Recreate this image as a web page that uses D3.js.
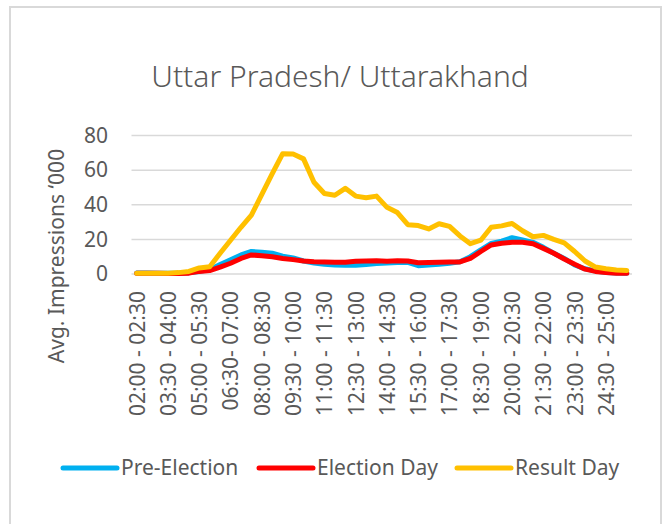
<!DOCTYPE html>
<html>
<head>
<meta charset="utf-8">
<script src="https://cdn.jsdelivr.net/npm/d3@7"></script>
<style>
  body { margin: 0; background: #fff; }
  text { font-family: "Noto Sans", sans-serif; fill: #595959; }
</style>
</head>
<body>
<div id="chart"></div>
<script>
var width = 665, height = 524;

var slots = [
  "02:00 - 02:30", "02:30 - 03:00", "03:00 - 03:30", "03:30 - 04:00",
  "04:00 - 04:30", "04:30 - 05:00", "05:00 - 05:30", "05:30 - 06:00",
  "06:00 - 06:30", "06:30- 07:00", "07:00 - 07:30", "07:30 - 08:00",
  "08:00 - 08:30", "08:30 - 09:00", "09:00 - 09:30", "09:30 - 10:00",
  "10:00 - 10:30", "10:30 - 11:00", "11:00 - 11:30", "11:30 - 12:00",
  "12:00 - 12:30", "12:30 - 13:00", "13:00 - 13:30", "13:30 - 14:00",
  "14:00 - 14:30", "14:30 - 15:00", "15:00 - 15:30", "15:30 - 16:00",
  "16:00 - 16:30", "16:30 - 17:00", "17:00 - 17:30", "17:30 - 18:00",
  "18:00 - 18:30", "18:30 - 19:00", "19:00 - 19:30", "19:30 - 20:00",
  "20:00 - 20:30", "20:30 - 21:00", "21:00 - 21:30", "21:30 - 22:00",
  "22:00 - 22:30", "22:30 - 23:00", "23:00 - 23:30", "23:30 - 24:00",
  "24:00 - 24:30", "24:30 - 25:00", "25:00 - 25:30", "25:30 - 26:00"
];

var preElection = [0.6, 0.6, 0.5, 0.5, 0.5, 0.7, 1.5, 2.5, 5.5, 8.2, 11, 13,
  12.6, 12, 10.3, 9.3, 7.5, 6.3, 5.6, 5.2, 5.1, 5.1, 5.5, 6,
  6.4, 6.6, 6.7, 4.8, 5.2, 5.6, 6.2, 7.1, 10, 14, 17.7, 19,
  21, 19.7, 18.3, 15.4, 12, 9, 5.2, 3, 1.7, 0.9, 0.6, 0.5];

var electionDay = [0.4, 0.4, 0.4, 0.3, 0.3, 0.5, 1.5, 2, 4, 6.2, 9, 11,
  10.6, 10, 9, 8.3, 7.5, 7.1, 7, 6.8, 6.8, 7.3, 7.5, 7.7,
  7.4, 7.6, 7.5, 6.5, 6.6, 6.8, 6.9, 7, 9, 13, 16.8, 17.8,
  18.3, 18.3, 17.5, 14.8, 12, 8.7, 5.6, 2.8, 1.5, 0.8, 0.5, 0.5];

var resultDay = [0.4, 0.4, 0.4, 0.5, 0.8, 1.5, 3.5, 4.2, 12, 19.5, 27, 34,
  46, 58, 69.5, 69.3, 66.5, 53, 46.5, 45.5, 49.5, 45, 44, 45,
  38.5, 35.5, 28.5, 28, 26, 29, 27.5, 22, 17.5, 19.5, 27, 27.8,
  29.2, 25, 21.5, 22.3, 20, 18, 13, 7.5, 4, 3, 2.3, 2];

var yTicks = [0, 20, 40, 60, 80];

var series = [
  { name: "Pre-Election", values: preElection, color: "#00B0F0" },
  { name: "Election Day", values: electionDay, color: "#FF0000" },
  { name: "Result Day", values: resultDay, color: "#FFC000" }
];

var svg = d3.select("#chart").append("svg")
  .attr("width", width)
  .attr("height", height);

// chart frame
svg.append("rect")
  .attr("x", 10).attr("y", 7)
  .attr("width", 651).attr("height", 540)
  .attr("fill", "none")
  .attr("stroke", "#d9d9d9")
  .attr("stroke-width", 2);

svg.append("text")
  .attr("x", 340).attr("y", 87)
  .attr("text-anchor", "middle")
  .style("font-size", "30px")
  .style("font-weight", 300)
  .text("Uttar Pradesh/ Uttarakhand");

var x = d3.scalePoint()
  .domain(slots)
  .range([131.5, 632])
  .padding(0.5);

var y = d3.scaleLinear()
  .domain([0, 80])
  .range([274, 135.5]);

// gridlines
svg.append("g")
  .selectAll("line")
  .data(yTicks)
  .enter()
  .append("line")
  .attr("x1", 131.5).attr("x2", 632)
  .attr("y1", function(d) { return y(d); })
  .attr("y2", function(d) { return y(d); })
  .attr("stroke", "#d9d9d9")
  .attr("stroke-width", 1.5);

var yAxis = svg.append("g")
  .attr("transform", "translate(118,0)")
  .call(d3.axisLeft(y).tickValues(yTicks).tickSize(0).tickPadding(10));
yAxis.select(".domain").remove();
yAxis.selectAll("text")
  .style("font-family", "'Noto Sans', sans-serif")
  .style("font-size", "21px")
  .attr("fill", "#595959");

svg.append("text")
  .attr("transform", "translate(64,256) rotate(-90)")
  .attr("text-anchor", "middle")
  .style("font-size", "21px")
  .text("Avg. Impressions \u2018000");

var shown = slots.filter(function(d, i) { return i % 3 === 0; });
var xAxis = svg.append("g")
  .attr("transform", "translate(0,281)")
  .call(d3.axisBottom(x).tickValues(shown).tickSize(0).tickPadding(0));
xAxis.select(".domain").remove();
xAxis.selectAll("text")
  .style("font-family", "'Noto Sans', sans-serif")
  .style("font-size", "21px")
  .attr("fill", "#595959")
  .attr("text-anchor", "end")
  .attr("transform", "rotate(-90)")
  .attr("x", -10)
  .attr("y", 0)
  .attr("dy", "0.35em");

var line = d3.line()
  .x(function(d, i) { return x(slots[i]); })
  .y(function(d) { return y(d); });

svg.append("g")
  .selectAll("path")
  .data(series)
  .enter()
  .append("path")
  .attr("d", function(d) { return line(d.values); })
  .attr("fill", "none")
  .attr("stroke", function(d) { return d.color; })
  .attr("stroke-width", 5)
  .attr("stroke-linejoin", "round")
  .attr("stroke-linecap", "round");

// legend
var legendX = [63, 259, 457];
var legend = svg.append("g")
  .selectAll("g")
  .data(series)
  .enter()
  .append("g")
  .attr("transform", function(d, i) { return "translate(" + legendX[i] + ",468)"; });
legend.append("line")
  .attr("x1", 0).attr("x2", 54)
  .attr("stroke", function(d) { return d.color; })
  .attr("stroke-width", 5)
  .attr("stroke-linecap", "round");
legend.append("text")
  .attr("x", 58)
  .attr("dy", "0.35em")
  .style("font-size", "21px")
  .text(function(d) { return d.name; });
</script>
</body>
</html>
